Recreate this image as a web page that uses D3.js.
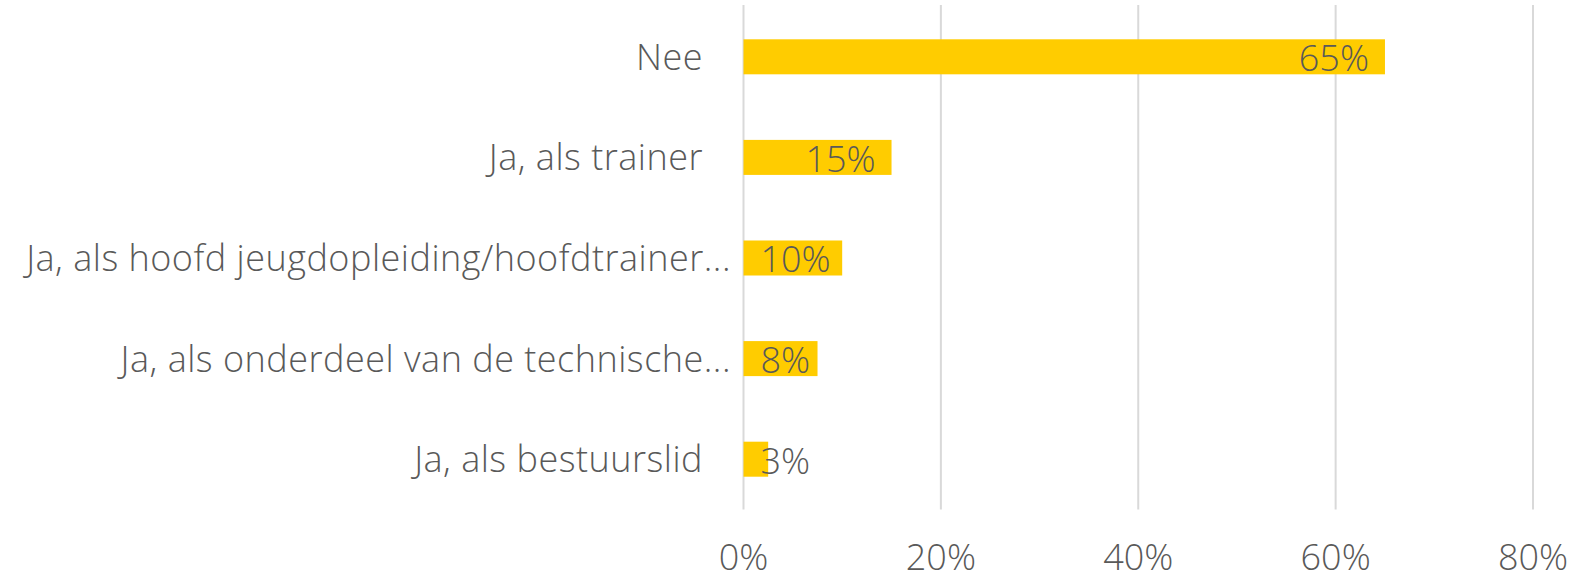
<!DOCTYPE html>
<html>
<head>
<meta charset="utf-8">
<script src="https://cdn.jsdelivr.net/npm/d3@7"></script>
<style>
	body { margin: 0; background: #fff; }
	text { font-family: "Open Sans", sans-serif; font-weight: 300; fill: #595959; }
</style>
</head>
<body>
<div id="chart"></div>
<script>
var categories = ["Nee", "Ja, als trainer", "Ja, als hoofd jeugdopleiding/hoofdtrainer...", "Ja, als onderdeel van de technische...", "Ja, als bestuurslid"];
var values = [65, 15, 10, 7.5, 2.5];
var ticks = [0, 20, 40, 60, 80];

var width = 1595, height = 580;
var margin = {top: 6.5, right: 62, bottom: 70.5, left: 743.5};

var svg = d3.select("#chart")
	.append("svg")
	.attr("width", width)
	.attr("height", height);

var x = d3.scaleLinear()
	.domain([0, 80])
	.range([margin.left, width - margin.right]);

var y = d3.scaleBand()
	.domain(categories)
	.range([margin.top, height - margin.bottom])
	.paddingInner(0.652)
	.paddingOuter(0.326);

// gridlines
svg.selectAll(".grid")
	.data(ticks)
	.enter()
	.append("line")
	.attr("class", "grid")
	.attr("x1", function(d) { return x(d) })
	.attr("x2", function(d) { return x(d) })
	.attr("y1", 5)
	.attr("y2", height - margin.bottom)
	.attr("stroke", "#d9d9d9")
	.attr("stroke-width", 2);

// x tick labels
svg.selectAll(".tick-label")
	.data(ticks)
	.enter()
	.append("text")
	.attr("class", "tick-label")
	.attr("x", function(d) { return x(d) })
	.attr("y", 570)
	.attr("text-anchor", "middle")
	.style("font-size", "36px")
	.text(function(d) { return d + "%" });

// bars
svg.selectAll(".bar")
	.data(values)
	.enter()
	.append("rect")
	.attr("class", "bar")
	.attr("x", x(0))
	.attr("y", function(d, i) { return y(categories[i]) })
	.attr("width", function(d) { return x(d) - x(0) })
	.attr("height", y.bandwidth())
	.attr("fill", "#ffcc00");

// category labels
svg.selectAll(".cat")
	.data(categories)
	.enter()
	.append("text")
	.attr("class", "cat")
	.attr("x", function(d) { return d.slice(-3) == "..." ? 731 : 703 })
	.attr("y", function(d) { return y(d) + y.bandwidth() / 2 })
	.attr("dy", "0.36em")
	.attr("text-anchor", "end")
	.style("font-size", "36px")
	.style("letter-spacing", "0.5px")
	.text(function(d) { return d });

// value labels, inside end but never past the axis start
svg.selectAll(".val")
	.data(values)
	.enter()
	.append("text")
	.attr("class", "val")
	.attr("y", function(d, i) { return y(categories[i]) + y.bandwidth() / 2 })
	.attr("dy", "0.4em")
	.attr("text-anchor", "end")
	.style("font-size", "36px")
	.text(function(d) { return Math.round(d) + "%" })
	.attr("x", function(d) {
		var w = this.getComputedTextLength();
		return Math.max(x(d) - 16, x(0) + 17 + w);
	});
</script>
</body>
</html>
